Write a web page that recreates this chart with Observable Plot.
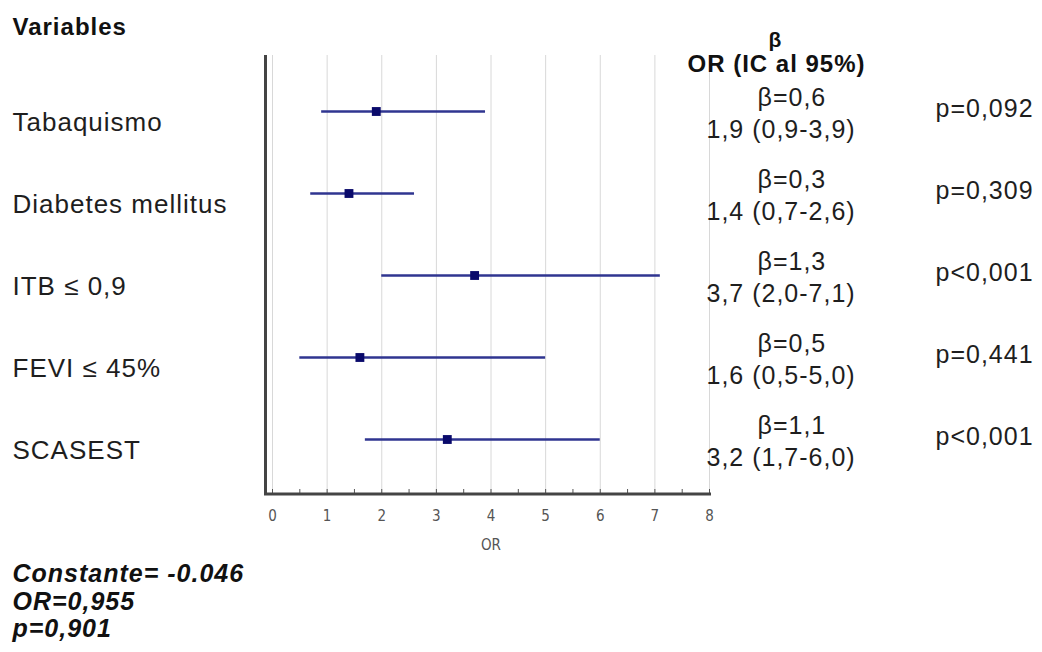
<!DOCTYPE html>
<html>
<head>
<meta charset="utf-8">
<script src="https://cdn.jsdelivr.net/npm/d3@7"></script>
<script src="https://cdn.jsdelivr.net/npm/@observablehq/plot@0.6"></script>
<style>
  html, body { margin: 0; padding: 0; background: #fff; }
  #chart { width: 1042px; height: 652px; }
  svg { font-family: "Liberation Sans", Arial, sans-serif; }
  svg g[aria-label="text"] text { letter-spacing: 1px; }
</style>
</head>
<body>
<div id="chart"></div>
<script>
const variables = ["Tabaquismo", "Diabetes mellitus", "ITB ≤ 0,9", "FEVI ≤ 45%", "SCASEST"];
const betas = [0.6, 0.3, 1.3, 0.5, 1.1];
const oddsRatios = [1.9, 1.4, 3.7, 1.6, 3.2];
const ciLow = [0.9, 0.7, 2.0, 0.5, 1.7];
const ciHigh = [3.9, 2.6, 7.1, 5.0, 6.0];
const pLabels = ["p=0,092", "p=0,309", "p<0,001", "p=0,441", "p<0,001"];
const xTicks = [0, 1, 2, 3, 4, 5, 6, 7, 8];
const xMinorTicks = [0, 0.5, 1, 1.5, 2, 2.5, 3, 3.5, 4, 4.5, 5, 5.5, 6, 6.5, 7, 7.5, 8];
const headerLeft = "Variables";
const headerBeta = "β";
const headerOR = "OR (IC al 95%)";
const footerLines = ["Constante= -0.046", "OR=0,955", "p=0,901"];

const fmt = v => v.toFixed(1).replace(".", ",");
const rows = variables.map((name, i) => ({
  name, beta: betas[i], or: oddsRatios[i], lo: ciLow[i], hi: ciHigh[i], p: pLabels[i]
}));

const W = 1042, H = 652, mL = 272, mR = 333, mT = 55, mB = 158;

const plot = Plot.plot({
  width: W, height: H,
  marginLeft: mL, marginRight: mR, marginTop: mT, marginBottom: mB,
  style: {fontFamily: "'Liberation Sans', Arial, sans-serif", background: "#fff"},
  x: {domain: [0, 8]},
  y: {type: "point", domain: variables, padding: 0.655, axis: null},
  marks: [
    Plot.gridX(xTicks, {stroke: "#d8d8d8", strokeOpacity: 1, strokeWidth: 1}),
    Plot.ruleX([0], {dx: -7, stroke: "#444", strokeWidth: 3}),
    Plot.axisX(xMinorTicks, {tickSize: 5, dy: -5, text: null, stroke: "#555", label: null}),
    Plot.axisX(xTicks, {tickSize: 0, tickPadding: 16, fontSize: 15, fill: "#555",
      fontFamily: "'Liberation Sans Narrow', 'DejaVu Sans Condensed', sans-serif",
      tickFormat: d => String(d), label: "OR", labelAnchor: "center", labelArrow: "none", labelOffset: 55}),
    Plot.ruleY(rows, {y: "name", x1: "lo", x2: "hi", stroke: "#2f3590", strokeWidth: 2.5}),
    Plot.dot(rows, {x: "or", y: "name", symbol: "square", r: 5, fill: "#0a0a6b", stroke: "none"}),
    // Row labels
    Plot.text(rows, {y: "name", text: "name", frameAnchor: "left", dx: -260, dy: 11,
      textAnchor: "start", fontSize: 26, fill: "#1e1e1e"}),
    // beta and OR text
    Plot.text(rows, {y: "name", text: d => "β=" + fmt(d.beta), frameAnchor: "right", dx: 48, dy: -14,
      textAnchor: "start", fontSize: 25, fill: "#1e1e1e"}),
    Plot.text(rows, {y: "name", text: d => `${fmt(d.or)} (${fmt(d.lo)}-${fmt(d.hi)})`, frameAnchor: "right", dx: -3, dy: 18,
      textAnchor: "start", fontSize: 25, fill: "#1e1e1e"}),
    Plot.text(rows, {y: "name", text: "p", frameAnchor: "right", dx: 226, dy: -3,
      textAnchor: "start", fontSize: 25, fill: "#1e1e1e"}),
    // Headers
    Plot.text([headerLeft], {frameAnchor: "top-left", dx: -260, dy: -28, lineAnchor: "middle",
      textAnchor: "start", fontSize: 24, fontWeight: "bold", fill: "#111"}),
    Plot.text([headerBeta], {frameAnchor: "top-right", dx: 66, dy: -15, lineAnchor: "middle",
      textAnchor: "middle", fontSize: 21, fontWeight: "bold", fill: "#111"}),
    Plot.text([headerOR], {frameAnchor: "top-right", dx: 67, dy: 9, lineAnchor: "middle",
      textAnchor: "middle", fontSize: 24, fontWeight: "bold", fill: "#111"}),
    // Footer
    Plot.text([footerLines.join("\n")], {frameAnchor: "bottom-left", dx: -260, dy: 68, lineAnchor: "top",
      textAnchor: "start", fontSize: 25, lineHeight: 1.1, fontWeight: "bold", fontStyle: "italic", fill: "#111"})
  ]
});

// bottom axis line drawn through the plot's x scale
const xs = plot.scale("x");
d3.select(plot).append("line")
  .attr("x1", xs.apply(0) - 8).attr("x2", xs.apply(8) + 2)
  .attr("y1", H - mB).attr("y2", H - mB)
  .attr("stroke", "#444").attr("stroke-width", 3);

document.getElementById("chart").appendChild(plot);
</script>
</body>
</html>
